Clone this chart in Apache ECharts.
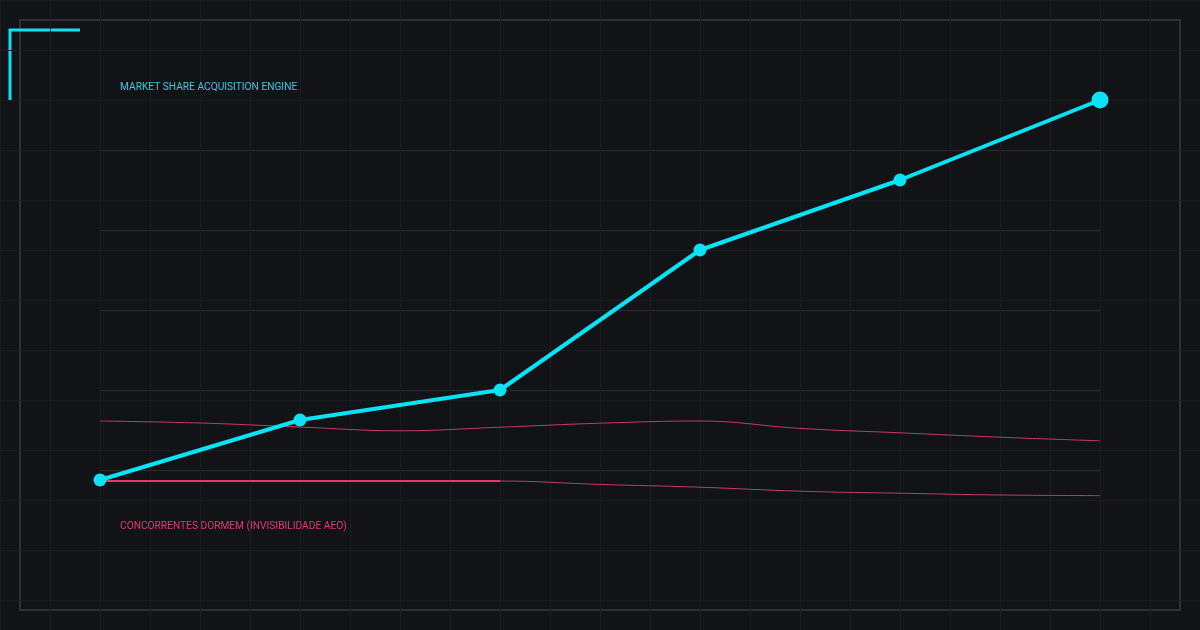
<!DOCTYPE html>
<html>
<head>
<meta charset="utf-8">
<script src="https://cdn.jsdelivr.net/npm/echarts@6/dist/echarts.min.js"></script>
<style>
html,body{margin:0;padding:0;background:#111317;}
#c{width:1200px;height:630px;}
</style>
</head>
<body>
<div id="c"></div>
<script>
// categories (11 steps, engine points on even steps)
const categories = ['0','0.5','1','1.5','2','2.5','3','3.5','4','4.5','5'];
const engine = [17.5, null, 32.5, null, 40, null, 75, null, 92.5, null, 112.5];
const competitorsUpper = [32.25, 31.75, 30.75, 29.8, 30.7, 31.7, 32.25, 30.4, 29.3, 28.2, 27.3];
const competitorsLower = [17.25, 17.25, 17.25, 17.25, 17.25, 16.4, 15.7, 14.7, 14.2, 13.75, 13.6];
const competitorsFlat = [17.25, 17.25, 17.25, 17.25, 17.25, null, null, null, null, null, null];
const yTicks = [0, 20, 40, 60, 80, 100, 120];
const labelEngine = 'MARKET SHARE ACQUISITION ENGINE';
const labelCompetitors = 'CONCORRENTES DORMEM (INVISIBILIDADE AEO)';

const chart = echarts.init(document.getElementById('c'), null, {renderer:'canvas'});
const cyan = '#08e3f5';
const pink = '#f0336b';
const pinkThin = '#c43a67';

chart.setOption({
  backgroundColor: '#111317',
  animation: false,
  title: [
    {text: labelEngine, left: 120, top: 82, padding: 0, textStyle:{color:'#3cc9de', fontSize:10.2, fontWeight:'normal', fontFamily:'Roboto'}},
    {text: labelCompetitors, left: 120, top: 521, padding: 0, textStyle:{color:'#e33a6c', fontSize:10.2, fontWeight:'normal', fontFamily:'Roboto'}}
  ],
  grid: [
    {left:0, right:0, top:0, bottom:0},
    {left:100, right:100, top:70, bottom:80}
  ],
  xAxis: [
    {gridIndex:0, type:'value', min:0, max:1200, interval:50, axisLine:{show:false}, axisTick:{show:false}, axisLabel:{show:false},
     splitLine:{show:true, lineStyle:{color:'#1a1d21', width:1}}},
    {gridIndex:1, type:'category', data:categories, boundaryGap:false, axisLine:{show:false}, axisTick:{show:false}, axisLabel:{show:false}, splitLine:{show:false}}
  ],
  yAxis: [
    {gridIndex:0, type:'value', min:0, max:630, interval:50, inverse:true, axisLine:{show:false}, axisTick:{show:false}, axisLabel:{show:false},
     splitLine:{show:true, lineStyle:{color:'#1a1d21', width:1}}},
    {gridIndex:1, type:'value', min:yTicks[0], max:yTicks[yTicks.length-1], interval:20, axisLine:{show:false}, axisTick:{show:false}, axisLabel:{show:false},
     splitLine:{show:true, showMinLine:false, showMaxLine:false, lineStyle:{color:'#2a2c31', width:1}}}
  ],
  graphic: [
    {type:'rect', shape:{x:20, y:20, width:1160, height:590}, style:{fill:'none', stroke:'#2e3034', lineWidth:2}, silent:true},
    {type:'polyline', shape:{points:[[10,100],[10,30],[80,30]]}, style:{fill:'none', stroke:cyan, lineWidth:3}, silent:true}
  ],
  series: [
    {name:'upper', type:'line', xAxisIndex:1, yAxisIndex:1, data:competitorsUpper, smooth:0.4, symbol:'none',
     lineStyle:{color:pinkThin, width:1}, z:2},
    {name:'lower', type:'line', xAxisIndex:1, yAxisIndex:1, data:competitorsLower, smooth:0.4, symbol:'none',
     lineStyle:{color:pinkThin, width:1}, z:2},
    {name:'flat', type:'line', xAxisIndex:1, yAxisIndex:1, data:competitorsFlat, symbol:'none',
     lineStyle:{color:pink, width:2}, z:3},
    {name:'engine', type:'line', xAxisIndex:1, yAxisIndex:1, data:engine, connectNulls:true,
     symbol:'circle', symbolSize:function(v, p){ return p.dataIndex === engine.length-1 ? 17 : 13; },
     itemStyle:{color:cyan}, lineStyle:{color:cyan, width:4}, z:5}
  ]
});
</script>
</body>
</html>
